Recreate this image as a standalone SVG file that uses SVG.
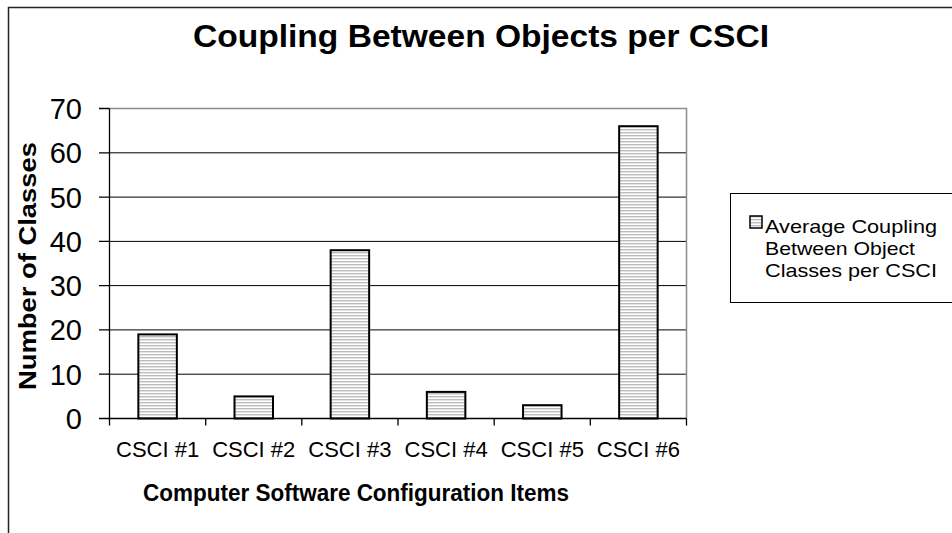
<svg xmlns="http://www.w3.org/2000/svg" width="952" height="533" viewBox="0 0 952 533">
  <defs>
    <!-- horizontal hatch used for the bar fill and the legend key -->
    <pattern id="hatch" patternUnits="userSpaceOnUse" width="6" height="3">
      <rect width="6" height="3" fill="#ffffff"/>
      <rect y="0" width="6" height="1.4" fill="#bcbcbc"/>
    </pattern>
    <style>
      .frame { fill: none; stroke: #222; stroke-width: 1.5; }
      .grid { stroke: #000; stroke-width: 1; }
      .border { fill: none; stroke: #8c8c8c; stroke-width: 1.5; }
      .axis { stroke: #000; stroke-width: 1.3; fill: none; }
      .bar { fill: url(#hatch); stroke: #000; stroke-width: 2; }
      .title { font-family: "Liberation Sans", Arial, sans-serif; font-weight: bold; fill: #000; }
      .tick { font-family: "Liberation Sans", Arial, sans-serif; font-size: 29px; fill: #000; text-anchor: end; }
      .cat { font-family: "Liberation Sans", Arial, sans-serif; font-size: 22px; fill: #000; text-anchor: middle; }
      .legend { font-family: "Liberation Sans", Arial, sans-serif; font-size: 19px; fill: #000; }
    </style>
  </defs>

  <rect width="952" height="533" fill="#ffffff"/>

  <!-- chart area frame (only top and left edges fall inside the view) -->
  <path class="frame" d="M8.5,540 V7.5 H960"/>

  <!-- chart title -->
  <text id="chart-title" class="title" x="481" y="47" font-size="32" text-anchor="middle" textLength="576" lengthAdjust="spacingAndGlyphs">Coupling Between Objects per CSCI</text>

  <!-- plot area: gridlines, border, axes -->
  <g id="plot-area">
    <g class="grid">
      <line x1="109.5" y1="152.8" x2="686.5" y2="152.8"/>
      <line x1="109.5" y1="197.1" x2="686.5" y2="197.1"/>
      <line x1="109.5" y1="241.4" x2="686.5" y2="241.4"/>
      <line x1="109.5" y1="285.6" x2="686.5" y2="285.6"/>
      <line x1="109.5" y1="329.9" x2="686.5" y2="329.9"/>
      <line x1="109.5" y1="374.2" x2="686.5" y2="374.2"/>
    </g>
    <path class="border" d="M109.5,108.5 H686.5 V418.5"/>
  </g>

  <!-- bars -->
  <g id="bars">
    <g id="bar-csci1"><rect class="bar" x="138.35" y="334.4" width="38.5" height="84.1"/></g>
    <g id="bar-csci2"><rect class="bar" x="234.5" y="396.4" width="38.5" height="22.1"/></g>
    <g id="bar-csci3"><rect class="bar" x="330.65" y="250.2" width="38.5" height="168.3"/></g>
    <g id="bar-csci4"><rect class="bar" x="426.85" y="391.9" width="38.5" height="26.6"/></g>
    <g id="bar-csci5"><rect class="bar" x="523.05" y="405.2" width="38.5" height="13.3"/></g>
    <g id="bar-csci6"><rect class="bar" x="619.15" y="126.2" width="38.5" height="292.3"/></g>
  </g>

  <!-- axes with tick marks -->
  <g id="axes">
    <path class="axis" d="M109.5,108.5 V418.5 H686.5"/>
    <path class="axis" d="M99,108.5 H109.5 M99,152.8 H109.5 M99,197.1 H109.5 M99,241.4 H109.5 M99,285.6 H109.5 M99,329.9 H109.5 M99,374.2 H109.5 M99,418.5 H109.5"/>
    <path class="axis" d="M109.5,418.5 V425.5 M205.7,418.5 V425.5 M301.8,418.5 V425.5 M398,418.5 V425.5 M494.2,418.5 V425.5 M590.3,418.5 V425.5 M686.5,418.5 V425.5"/>
  </g>

  <!-- value axis labels -->
  <g id="y-labels">
    <text class="tick" x="82" y="119">70</text>
    <text class="tick" x="82" y="163.3">60</text>
    <text class="tick" x="82" y="207.6">50</text>
    <text class="tick" x="82" y="251.9">40</text>
    <text class="tick" x="82" y="296.1">30</text>
    <text class="tick" x="82" y="340.4">20</text>
    <text class="tick" x="82" y="384.7">10</text>
    <text class="tick" x="82" y="429">0</text>
  </g>
  <text id="y-title" class="title" font-size="23" text-anchor="middle" transform="translate(36,266) rotate(-90)" textLength="248" lengthAdjust="spacingAndGlyphs">Number of Classes</text>

  <!-- category axis labels -->
  <g id="x-labels">
    <text class="cat" x="157.6" y="457">CSCI #1</text>
    <text class="cat" x="253.75" y="457">CSCI #2</text>
    <text class="cat" x="349.9" y="457">CSCI #3</text>
    <text class="cat" x="446.1" y="457">CSCI #4</text>
    <text class="cat" x="542.3" y="457">CSCI #5</text>
    <text class="cat" x="638.4" y="457">CSCI #6</text>
  </g>
  <text id="x-title" class="title" font-size="23.5" x="143" y="501" textLength="426" lengthAdjust="spacingAndGlyphs">Computer Software Configuration Items</text>

  <!-- legend -->
  <g id="legend">
    <rect x="730.5" y="193.5" width="240" height="109" fill="#ffffff" stroke="#000" stroke-width="1"/>
    <rect x="750" y="216" width="12" height="12" fill="url(#hatch)" stroke="#000" stroke-width="1.5"/>
    <text class="legend" x="765" y="233" textLength="172" lengthAdjust="spacingAndGlyphs">Average Coupling</text>
    <text class="legend" x="765" y="255" textLength="150" lengthAdjust="spacingAndGlyphs">Between Object</text>
    <text class="legend" x="765" y="277" textLength="172" lengthAdjust="spacingAndGlyphs">Classes per CSCI</text>
  </g>
</svg>
